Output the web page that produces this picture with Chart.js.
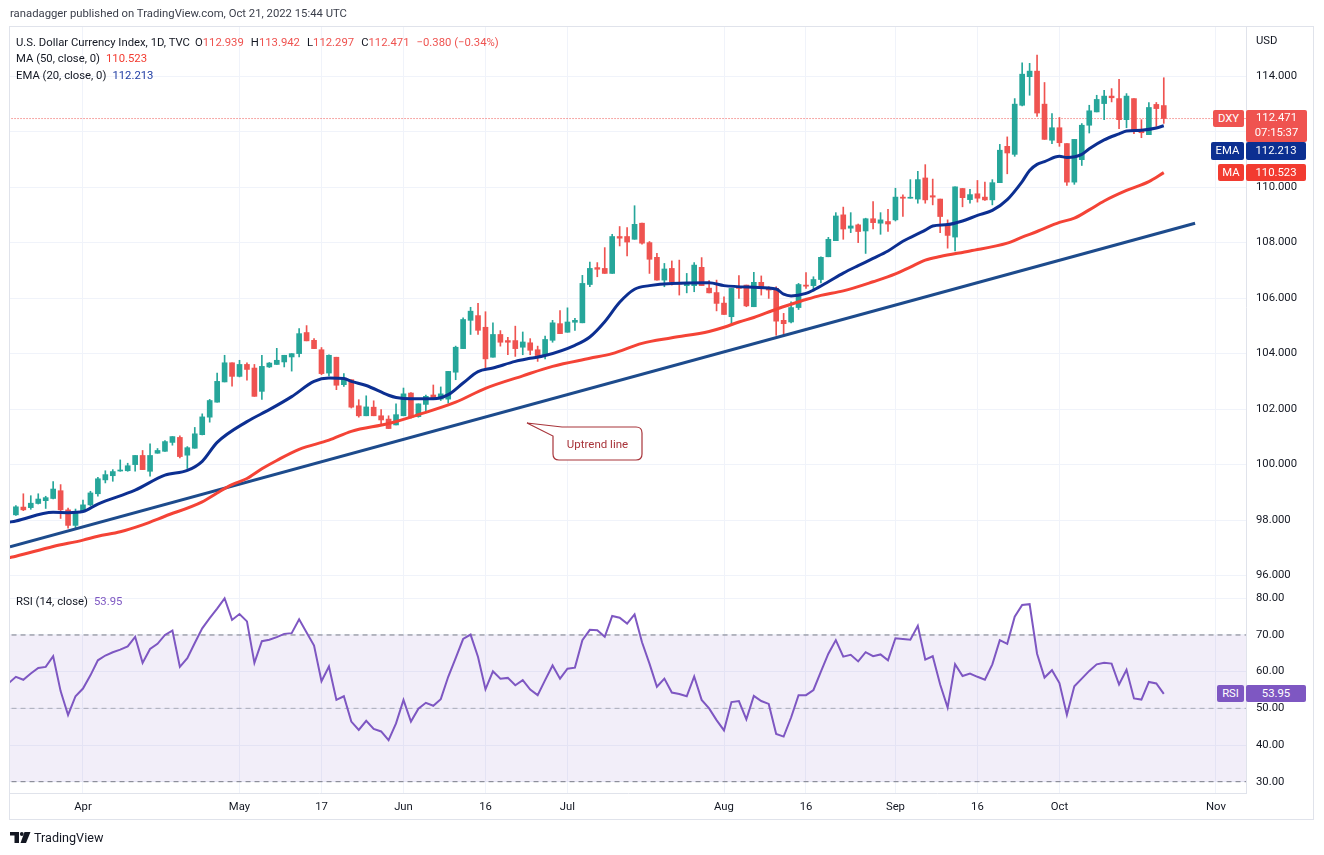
<!DOCTYPE html>
<html><head><meta charset="utf-8"><title>DXY</title>
<script src="https://cdn.jsdelivr.net/npm/chart.js@4.4.1/dist/chart.umd.min.js"></script>
<style>
html,body{margin:0;padding:0;background:#fff;}
#wrap{position:relative;width:1324px;height:855px;overflow:hidden;font-family:Roboto,"Liberation Sans",Arial,sans-serif;color:#131722;}
#cMain,#cRsi{position:absolute;left:0;}
#cMain{top:0;}
#cRsi{top:587px;}
#frame{position:absolute;left:9px;top:26px;width:1305px;height:794px;box-sizing:border-box;border:1px solid #e0e3eb;pointer-events:none;}
.t{position:absolute;white-space:nowrap;font-size:11.3px;line-height:14px;}
.r{color:#ef5350;}
.tag{position:absolute;color:#fff;font-size:11.3px;text-align:center;border-radius:2px;line-height:17px;white-space:nowrap;}
svg{position:absolute;left:0;top:0;pointer-events:none;}
</style></head><body><div id="wrap">
<canvas id="cMain" width="1324" height="587"></canvas>
<canvas id="cRsi" width="1324" height="233"></canvas>
<div id="frame"></div>
<div class="t" style="left:10px;top:7px;color:#3a3e4a">ranadagger published on TradingView.com, Oct 21, 2022 15:44 UTC</div>
<div class="t" style="left:16px;top:36px">U.S. Dollar Currency Index, 1D, TVC<span style="margin-left:5px">O</span><span class="r">112.939</span><span style="margin-left:7px">H</span><span class="r">113.942</span><span style="margin-left:7px">L</span><span class="r">112.297</span><span style="margin-left:7px">C</span><span class="r">112.471</span><span class="r" style="margin-left:7px">−0.380 (−0.34%)</span></div>
<div class="t" style="left:16px;top:52px">MA (50, close, 0)<span style="color:#f23b30;margin-left:6px">110.523</span></div>
<div class="t" style="left:16px;top:69px">EMA (20, close, 0)<span style="color:#2340a5;margin-left:6px">112.213</span></div>
<div class="t" style="left:1256px;top:34px">USD</div>
<div class="t" style="left:16px;top:595px">RSI (14, close)<span style="color:#7e57c2;margin-left:6px">53.95</span></div>
<svg width="1324" height="855" viewBox="0 0 1324 855">
  <path d="M527 423 L562 427 L636 427 Q642 427 642 433 L642 454 Q642 460 636 460 L559 460 Q553 460 553 454 L553 436 Z" fill="#fff" stroke="#a8343a" stroke-width="1.2"/>
  <text x="597.5" y="447.5" text-anchor="middle" font-family="Roboto, 'Liberation Sans', sans-serif" font-size="11.5" fill="#a8343a">Uptrend line</text>
  <rect x="10" y="832" width="9" height="3.5" fill="#131722"/>
  <rect x="14.5" y="832" width="4.5" height="11" fill="#131722"/>
  <circle cx="21.8" cy="834" r="1.9" fill="#131722"/>
  <polygon points="24.5,832 30.5,832 26,843 20.5,843" fill="#131722"/>
  <text x="34" y="842" font-family="Roboto, 'Liberation Sans', sans-serif" font-size="12.6" fill="#131722">TradingView</text>
</svg>
</div>
<script>
// ---------- data ----------
const tickPos = [9,30,41,52,63,74,95,106,118,129,140,161];
const tickLabels = ['Apr','May','17','Jun','16','Jul','Aug','16','Sep','16','Oct','Nov'];
const priceTicks = [96,98,100,102,104,106,108,110,112,114];
const rsiTicks = [30,40,50,60,70,80];
const rsiBands = [70,50,30];

const openP = [98.19,98.47,98.45,98.60,98.70,98.78,99.06,98.37,97.81,98.31,
98.55,98.95,99.45,99.60,99.77,99.78,100.00,100.33,99.76,100.41,
100.48,100.80,100.98,100.34,100.59,101.08,101.71,102.25,102.98,103.67,
103.18,103.61,103.48,102.64,103.52,103.61,103.70,103.88,104.00,104.76,
104.48,104.14,103.30,103.87,102.88,103.06,102.12,101.76,102.07,101.76,
101.64,101.43,101.76,102.58,101.73,102.17,102.51,102.36,102.36,103.33,
104.18,105.20,105.37,104.95,103.87,104.69,104.47,104.47,104.23,104.39,
104.14,103.93,104.48,105.08,104.77,105.13,105.11,106.49,107.10,107.07,
106.89,108.22,108.22,108.12,108.70,108.00,107.47,106.65,107.07,106.57,
106.45,106.45,107.11,106.36,106.20,105.82,105.33,106.41,106.47,105.69,
106.57,106.35,106.35,105.20,105.14,105.66,106.47,106.45,106.67,107.49,
108.07,109.00,108.52,108.64,108.42,108.86,108.70,108.76,108.82,109.64,
109.60,109.57,110.33,109.69,109.57,108.62,108.20,109.95,109.55,109.76,
109.64,109.54,110.16,111.47,111.18,112.95,113.98,114.18,112.99,111.69,
112.14,111.57,110.18,110.99,112.23,112.71,113.01,113.28,113.19,112.43,
113.19,112.07,111.89,112.98,112.939];
const highP = [98.52,98.95,98.88,98.95,98.86,99.39,99.28,98.43,98.40,98.72,
99.04,99.54,99.78,99.82,100.17,100.05,100.33,100.51,100.75,100.58,
100.87,101.01,101.04,100.65,101.34,101.83,102.35,103.30,103.94,103.67,
103.76,103.67,103.61,103.94,103.68,104.19,103.94,104.00,104.90,105.01,
104.54,104.22,103.96,103.87,103.28,103.06,102.34,102.48,102.30,101.98,
101.76,102.19,102.76,102.60,102.19,102.51,102.87,102.80,103.36,104.27,
105.29,105.67,105.81,105.51,105.11,104.83,104.59,104.99,104.78,104.54,
104.27,104.63,105.20,105.55,105.65,105.27,106.82,107.30,107.28,107.82,
108.30,108.58,108.54,109.33,108.70,108.04,107.61,107.25,107.34,107.37,
106.89,107.28,107.46,106.63,106.65,106.05,106.35,106.81,106.47,106.93,
106.80,106.41,106.41,105.45,105.87,106.53,106.92,106.77,107.49,108.19,
109.08,109.28,109.08,108.67,108.88,109.48,109.08,109.20,109.96,109.72,
110.27,110.57,110.81,110.29,109.57,108.82,110.01,109.95,109.92,110.24,
110.18,110.27,111.54,111.81,113.19,114.48,114.46,114.76,113.77,112.65,
112.51,111.57,111.72,112.29,112.95,113.31,113.49,113.55,113.88,113.37,
113.19,112.43,113.05,113.05,113.942];
const lowP = [98.17,98.34,98.39,98.58,98.42,98.76,98.06,97.71,97.73,98.31,
98.51,98.86,99.34,99.40,99.76,99.76,99.76,99.82,99.58,100.41,
100.48,100.70,100.24,99.86,100.59,101.07,101.53,102.25,102.98,102.83,
103.16,103.04,102.46,102.35,103.50,103.61,103.52,103.37,103.88,104.46,
104.18,103.24,103.20,102.70,102.82,102.04,101.71,101.76,101.76,101.47,
101.30,101.43,101.76,101.67,101.71,101.88,102.34,102.31,102.22,103.06,
104.18,104.69,104.69,103.46,103.87,104.27,103.96,103.90,103.96,103.96,
103.72,103.81,104.41,104.72,104.77,104.84,105.11,106.41,106.77,106.89,
106.89,107.88,107.52,108.12,107.94,106.89,106.65,106.41,106.47,106.11,
106.19,106.23,106.45,106.19,105.54,105.41,105.08,105.99,105.69,105.69,
106.11,105.99,104.66,104.66,105.11,105.59,106.35,106.31,106.55,107.49,
108.07,108.12,108.36,108.00,107.61,108.49,108.30,108.40,108.78,108.94,
109.60,109.42,109.42,109.36,108.36,107.80,107.70,109.29,109.42,109.46,
109.52,109.36,110.16,110.48,111.11,112.93,113.31,112.55,111.72,111.57,
111.47,110.06,110.10,110.78,111.95,112.71,112.43,113.07,112.11,112.14,
111.93,111.78,111.89,112.19,112.297];
const closeP = [98.48,98.37,98.61,98.76,98.81,99.12,98.37,97.81,98.31,98.55,
98.98,99.49,99.64,99.75,99.80,99.96,100.33,99.82,100.33,100.51,
100.83,101.01,100.29,100.61,101.11,101.72,102.31,103.00,103.67,103.18,
103.61,103.43,102.46,103.54,103.66,103.76,103.94,104.00,104.72,104.46,
104.18,103.28,103.94,102.86,103.06,102.07,101.76,102.08,101.76,101.61,
101.30,101.80,102.55,101.71,102.19,102.46,102.34,102.55,103.36,104.23,
105.23,105.53,104.84,103.81,104.69,104.41,104.41,104.18,104.42,104.12,
103.93,104.51,105.11,104.72,105.14,105.20,106.53,107.07,107.04,106.89,
108.22,108.16,108.02,108.66,107.98,107.40,106.65,107.05,106.59,106.51,
106.55,107.19,106.45,106.19,105.81,105.41,106.35,106.35,105.72,106.57,
106.37,106.29,105.17,105.08,105.66,106.49,106.43,106.67,107.47,108.12,
108.96,108.49,108.60,108.40,108.86,108.72,108.82,108.67,109.64,109.60,
109.62,110.27,109.54,109.64,108.94,108.26,110.01,109.62,109.73,109.60,
109.54,110.16,111.33,111.23,112.99,114.07,114.18,112.67,111.72,112.14,
111.60,110.18,111.72,112.23,112.75,113.16,113.28,113.22,112.43,113.28,
112.02,111.96,112.87,112.83,112.471];

const emaPts = [[-1,97.92],[0,97.97],[5,98.28],[7,98.27],[9,98.31],[11,98.58],[16,99.08],[20,99.62],[23,99.79],[25,100.12],[27,100.80],[31,101.55],[34,101.98],[37,102.45],[40,103.0],[42,103.12],[44,103.10],[45,103.0],[47,102.85],[50,102.50],[51,102.42],[53,102.37],[56,102.37],[58,102.52],[60,102.94],[62,103.35],[64,103.48],[67,103.72],[69,103.83],[71,103.93],[75,104.30],[77,104.60],[79,105.15],[81,105.85],[83,106.32],[85,106.45],[88,106.53],[93,106.55],[95,106.45],[99,106.39],[102,106.33],[103,106.14],[104,106.08],[106,106.17],[107,106.29],[109,106.59],[111,106.90],[113,107.17],[115,107.43],[117,107.70],[119,108.05],[122,108.45],[123,108.60],[125,108.65],[127,108.78],[129,108.98],[131,109.16],[133,109.55],[135,110.20],[136,110.60],[137,110.82],[138,110.92],[140,111.11],[141,111.07],[143,111.18],[144,111.38],[146,111.70],[148,111.92],[149,112.02],[151,112.05],[153,112.13],[154,112.213]];
const maPts = [[-1,96.64],[0,96.70],[5,97.05],[9,97.28],[11,97.42],[14,97.58],[17,97.83],[20,98.14],[25,98.66],[27,98.98],[29,99.28],[31,99.50],[33,99.85],[35,100.15],[38,100.55],[42,100.88],[45,101.20],[50,101.48],[54,101.80],[59,102.25],[63,102.75],[68,103.20],[72,103.54],[77,103.83],[80,104.0],[84,104.37],[88,104.57],[93,104.80],[95,104.95],[97,105.14],[99,105.30],[102,105.60],[104,105.78],[106,105.95],[108,106.10],[111,106.26],[115,106.59],[118,106.87],[120,107.12],[122,107.37],[124,107.50],[128,107.70],[133,107.98],[135,108.20],[137,108.40],[140,108.73],[142,108.88],[144,109.18],[146,109.50],[149,109.88],[152,110.20],[154,110.523]];
const trendPts = [[-0.8,97.04],[158.2,108.70]];

const rsiPrev = 56.8;
const rsiVals = [58.6,57.8,59.5,61.0,61.3,64.2,54.7,48.2,53.3,55.4,
59.0,63.1,64.4,65.3,66.0,66.9,69.5,62.4,66.2,67.6,
70.0,71.2,61.3,63.7,67.8,71.8,74.6,77.2,80.0,74.1,
75.7,73.7,62.4,68.3,68.7,69.4,70.3,70.5,74.3,70.7,
67.1,57.4,61.4,52.3,53.3,46.4,44.1,46.6,44.4,43.7,
41.3,45.9,52.3,46.4,49.9,51.5,50.7,52.5,58.6,63.7,
68.9,70.1,64.0,55.2,60.1,58.1,58.3,56.3,57.7,55.1,
53.6,57.7,61.7,58.1,60.8,61.1,68.6,71.4,71.3,69.5,
75.2,74.7,73.1,75.6,68.0,62.2,55.9,58.1,54.3,53.9,
53.3,58.7,52.3,50.0,46.8,44.0,51.7,52.0,47.0,53.4,
52.0,51.2,43.0,42.3,47.5,53.6,53.6,55.0,60.0,64.9,
68.6,64.1,64.6,62.8,65.3,64.2,64.7,63.1,69.1,68.9,
68.7,72.5,63.3,64.2,56.5,50.2,62.0,58.8,59.5,58.6,
57.8,62.0,68.6,67.6,75.0,78.2,78.4,64.9,58.4,60.4,
56.9,48.2,56.0,58.1,60.2,62.0,62.4,62.2,56.5,60.5,
52.7,52.4,57.2,56.8,53.95];

// ---------- chart setup ----------
Chart.defaults.font.family = 'Roboto, "Liberation Sans", Arial, sans-serif';
Chart.defaults.font.size = 11.3;
Chart.defaults.color = '#131722';
Chart.defaults.animation = false;
Chart.defaults.plugins.legend.display = false;
Chart.defaults.plugins.tooltip.enabled = false;

const X_MIN = -0.79, X_MAX = 165.03;
const GRID = '#f0f3fa', EDGE = '#e0e3eb';
const UP = '#26a69a', DN = '#ef5350';
const candleCol = openP.map((o,i) => closeP[i] >= o ? UP : DN);
const pts = a => a.map(p => ({x:p[0], y:p[1]}));
const flat = v => [{x:X_MIN-1, y:v},{x:X_MAX+1, y:v}];

function makeX(labels){
  return {type:'linear', min:X_MIN, max:X_MAX, offset:false,
    afterBuildTicks: s => { s.ticks = tickPos.map(v => ({value:v})); },
    afterFit: s => { s.height = labels ? 27 : 0; s.paddingLeft = 0; s.paddingRight = 0; },
    grid:{color:GRID, drawTicks:false, offset:false},
    border:{display:true, color:EDGE},
    ticks:{display:labels, autoSkip:false, maxRotation:0, minRotation:0, padding:7, color:'#131722',
      callback:(v,i) => tickLabels[i]}};
}
function makeY(min, max, ticks, dec){
  return {type:'linear', position:'right', min:min, max:max,
    afterBuildTicks: s => { s.ticks = ticks.map(v => ({value:v})); },
    afterFit: s => { s.width = 67; s.paddingTop = 0; s.paddingBottom = 0; },
    grid:{color:GRID, drawTicks:false},
    border:{display:true, color:EDGE},
    ticks:{padding:10, color:'#131722', callback: v => Number(v).toFixed(dec)}};
}

const mainChart = new Chart(document.getElementById('cMain'), {
  type:'bar',
  data:{datasets:[
    {type:'line', label:'EMA', data:pts(emaPts), borderColor:'#0c2f91', borderWidth:3, pointRadius:0, cubicInterpolationMode:'monotone', clip:0, order:1},
    {type:'line', label:'MA', data:pts(maPts), borderColor:'#f44336', borderWidth:3, pointRadius:0, cubicInterpolationMode:'monotone', clip:0, order:2},
    {type:'line', label:'Uptrend', data:pts(trendPts), borderColor:'#1d4b8c', borderWidth:3, pointRadius:0, clip:0, order:3},
    {type:'bar', label:'body', data:openP.map((o,i) => ({x:i, y:[o, closeP[i]]})), backgroundColor:candleCol, barThickness:5, minBarLength:1, grouped:false, order:4},
    {type:'bar', label:'wick', data:highP.map((h,i) => ({x:i, y:[lowP[i], h]})), backgroundColor:candleCol, barThickness:1, grouped:false, order:5},
    {type:'line', label:'last', data:flat(closeP[closeP.length-1]), borderColor:'#ef5350', borderWidth:1, borderDash:[1,2], pointRadius:0, clip:0, order:6}
  ]},
  options:{responsive:false, maintainAspectRatio:false,
    layout:{padding:{left:10, top:27, right:11, bottom:0}},
    scales:{x:makeX(false), y:makeY(95.59, 115.77, priceTicks, 3)}}
});

const rsiChart = new Chart(document.getElementById('cRsi'), {
  type:'line',
  data:{datasets:[
    {label:'RSI', data:[{x:-1, y:rsiPrev}].concat(rsiVals.map((v,i) => ({x:i, y:v}))), borderColor:'#7e57c2', borderWidth:2, pointRadius:0, tension:0, clip:0, order:1},
    {label:'upper', data:flat(rsiBands[0]), borderColor:'#787b86', borderWidth:1, borderDash:[5,4], pointRadius:0, fill:{value:rsiBands[2]}, backgroundColor:'rgba(126,87,194,0.1)', clip:0, order:3},
    {label:'mid', data:flat(rsiBands[1]), borderColor:'rgba(120,123,134,0.55)', borderWidth:1, borderDash:[5,4], pointRadius:0, clip:0, order:2},
    {label:'lower', data:flat(rsiBands[2]), borderColor:'#787b86', borderWidth:1, borderDash:[5,4], pointRadius:0, clip:0, order:2}
  ]},
  options:{responsive:false, maintainAspectRatio:false,
    layout:{padding:{left:10, top:0, right:11, bottom:0}},
    scales:{x:makeX(true), y:makeY(26.92, 83.08, rsiTicks, 2)}}
});

// ---------- price tags positioned from the scales ----------
const wrap = document.getElementById('wrap');
function tag(left, top, width, height, bg, html, lh){
  const d = document.createElement('div');
  d.className = 'tag';
  Object.assign(d.style, {left:left+'px', top:top+'px', width:width+'px', height:height+'px', background:bg, lineHeight:(lh||height)+'px'});
  d.innerHTML = html;
  wrap.appendChild(d);
}
const ys = mainChart.scales.y;
const lastC = closeP[closeP.length-1];
const lastEma = emaPts[emaPts.length-1][1];
const lastMa = maPts[maPts.length-1][1];
const yLast = ys.getPixelForValue(lastC);
const yMa = ys.getPixelForValue(lastMa);
tag(1213, yLast-8.5, 31, 17, '#ef5350', 'DXY');
tag(1246, yLast-8.5, 61, 32, '#ef5350', lastC.toFixed(3)+'<br>07:15:37', 15);
tag(1211, yLast+23, 33, 18, '#0c2f91', 'EMA');
tag(1246, yLast+23, 60, 18, '#0c2f91', lastEma.toFixed(3));
tag(1218, yMa-8.5, 26, 17, '#f23b30', 'MA');
tag(1246, yMa-8.5, 60, 17, '#f23b30', lastMa.toFixed(3));
const lastR = rsiVals[rsiVals.length-1];
const yR = 587 + rsiChart.scales.y.getPixelForValue(lastR);
tag(1217, yR-8.5, 27, 17, '#7e57c2', 'RSI');
tag(1246, yR-8.5, 60, 17, '#7e57c2', lastR.toFixed(2));
</script>
</body></html>
